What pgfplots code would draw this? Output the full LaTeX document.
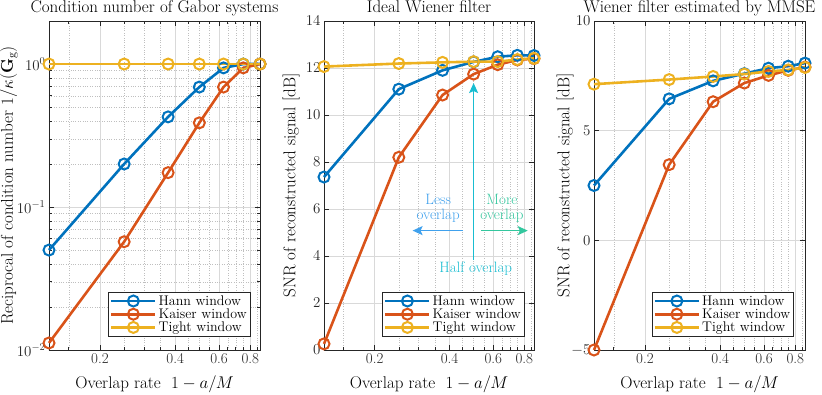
\RequirePackage{fix-cm}
\documentclass[border=0pt]{standalone}
\usepackage{pgfplots}
\usepackage{pgfplotstable}
\pgfplotsset{compat=1.18}
\usetikzlibrary{arrows.meta}

\definecolor{hann}{rgb}{0,0.447,0.741}
\definecolor{kaiser}{rgb}{0.85,0.325,0.098}
\definecolor{tight}{rgb}{0.929,0.694,0.125}
\definecolor{axgray}{rgb}{0.15,0.15,0.15}
\definecolor{lessc}{rgb}{0.25,0.63,0.93}
\definecolor{morec}{rgb}{0.2,0.78,0.62}
\definecolor{halfc}{rgb}{0.1,0.74,0.82}

% overlap rate 1-a/M, reciprocal condition number
\pgfplotstableread{
x     hann   kaiser  tight
0.125 0.050  0.0112  1
0.25  0.200  0.0572  1
0.375 0.427  0.174   1
0.5   0.690  0.388   1
0.625 0.940  0.690   1
0.75  1.000  0.940   1
0.875 1.000  1.000   1
}\condtab

% SNR, ideal Wiener filter
\pgfplotstableread{
x     hann   kaiser  tight
0.125 7.36   0.26    12.06
0.25  11.10  8.20    12.19
0.375 11.90  10.85   12.24
0.5   12.26  11.74   12.27
0.625 12.48  12.14   12.27
0.75  12.54  12.34   12.36
0.875 12.53  12.40   12.41
}\idealtab

% SNR, Wiener filter estimated by MMSE
\pgfplotstableread{
x     hann   kaiser  tight
0.125 2.50   -5.00   7.12
0.25  6.45   3.45    7.33
0.375 7.27   6.32    7.47
0.5   7.60   7.17    7.58
0.625 7.85   7.52    7.70
0.75  7.94   7.75    7.77
0.875 8.08   7.90    7.88
}\mmsetab

\pgfplotsset{
  panel/.style={
    scale only axis, width=211pt, height=329pt,
    anchor=south west, clip=false,
    xmin=0.125, xmax=0.875,
    xtick={0.2,0.4,0.6,0.8}, xticklabels={0.2,0.4,0.6,0.8},
    minor xtick={0.15,0.25,0.3,0.35,0.45,0.5,0.55,0.65,0.7,0.75,0.85},
    grid=both,
    major grid style={black!15, line width=0.5pt},
    minor grid style={black!25, dotted, line width=0.5pt},
    axis line style={axgray, line width=0.6pt},
    tick style={axgray, line width=0.6pt},
    major tick length=5pt, minor tick length=3pt,
    tick label style={font=\fontsize{15}{17}\selectfont, text=axgray},
    label style={font=\fontsize{17}{20}\selectfont},
    xlabel style={at={(axis description cs:0.5,0)}, anchor=base, yshift=-38pt},
    title style={font=\fontsize{17}{20}\selectfont,
      at={(axis description cs:0.5,1)}, anchor=base, yshift=2.5pt},
    xlabel={Overlap rate\ \ $1-a/M$},
    legend style={at={(0.955,0.04)}, anchor=south east,
      font=\fontsize{14}{16}\selectfont, draw=axgray, line width=0.6pt,
      inner sep=1.5pt, row sep=-2pt},
    legend cell align=left,
    legend image code/.code={\draw[mark repeat=2, mark phase=2]
      plot coordinates {(0pt,0pt) (22pt,0pt) (44pt,0pt)};},
  },
  sty/.style={line width=2.6pt, mark=o, mark size=5.5pt,
      mark options={solid, line width=2pt, fill=none}},
}

\begin{document}
\begin{tikzpicture}
\useasboundingbox (0,0) rectangle (822pt,394pt);

\begin{axis}[panel, xmode=log, at={(49pt,44pt)},
  ymode=log, ymin=0.01, ymax=2, ytick={0.01,0.1,1},
  title={Condition number of Gabor systems},
  ylabel={Reciprocal of condition number $1/\kappa(\mathbf{G}_\mathrm{g})$},
  ylabel style={at={(axis description cs:-0.19,0.5)}, anchor=center},
]
\addplot[sty, hann] table[x=x, y=hann] {\condtab};
\addplot[sty, kaiser] table[x=x, y=kaiser] {\condtab};
\addplot[sty, tight] table[x=x, y=tight] {\condtab};
\legend{Hann window, Kaiser window, Tight window}
\end{axis}

\begin{axis}[panel, xmode=log, at={(324pt,44pt)}, width=210pt,
  ymin=0, ymax=14, ytick={0,2,...,14},
  title={Ideal Wiener filter},
  ylabel={SNR of reconstructed signal [dB]},
  ylabel style={at={(axis description cs:-0.157,0.5)}, anchor=center},
]
\addplot[sty, hann] table[x=x, y=hann] {\idealtab};
\addplot[sty, kaiser] table[x=x, y=kaiser] {\idealtab};
\addplot[sty, tight] table[x=x, y=tight] {\idealtab};
\legend{Hann window, Kaiser window, Tight window}
\draw[halfc, line width=1.5pt, -{Stealth[length=10pt, width=9pt, inset=2pt]}]
  (axis cs:0.5,3.83) -- (axis cs:0.5,11.36);
\draw[lessc, line width=1.5pt, -{Stealth[length=10pt, width=9pt, inset=2pt]}]
  (axis cs:0.454,5.08) -- (axis cs:0.284,5.08);
\draw[morec, line width=1.5pt, -{Stealth[length=10pt, width=9pt, inset=2pt]}]
  (axis cs:0.535,5.08) -- (axis cs:0.826,5.08);
\node[lessc, align=center, font=\fontsize{15}{14.5}\selectfont, inner sep=0pt]
  at (axis cs:0.36,6.03) {Less\\overlap};
\node[morec, align=center, font=\fontsize{15}{14.5}\selectfont, inner sep=0pt]
  at (axis cs:0.65,6.03) {More\\overlap};
\node[halfc, font=\fontsize{15}{16}\selectfont, inner sep=0pt]
  at (axis cs:0.51,3.45) {Half overlap};
\end{axis}

\begin{axis}[panel, xmode=log, at={(594pt,44pt)},
  ymin=-5, ymax=10, ytick={-5,0,5,10},
  title={Wiener filter estimated by MMSE},
  ylabel={SNR of reconstructed signal [dB]},
  ylabel style={at={(axis description cs:-0.137,0.5)}, anchor=center},
  legend style={at={(0.948,0.04)}},
]
\addplot[sty, hann] table[x=x, y=hann] {\mmsetab};
\addplot[sty, kaiser] table[x=x, y=kaiser] {\mmsetab};
\addplot[sty, tight] table[x=x, y=tight] {\mmsetab};
\legend{Hann window, Kaiser window, Tight window}
\end{axis}
\end{tikzpicture}
\end{document}
